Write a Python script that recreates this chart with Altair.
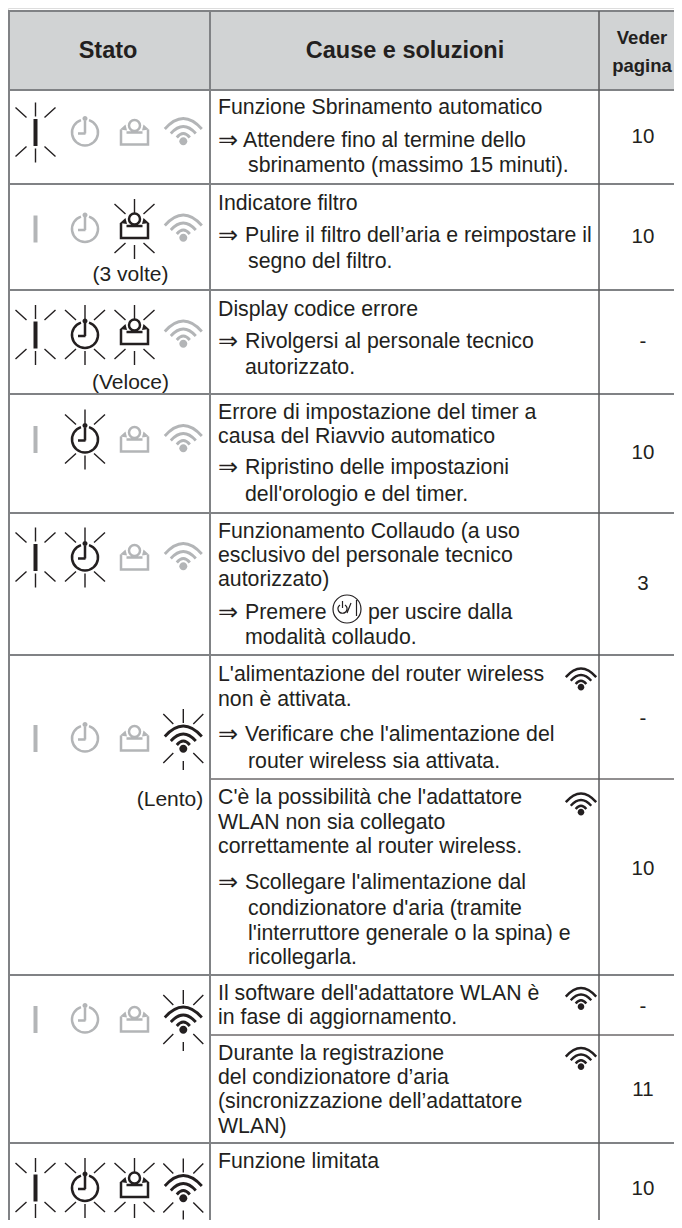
import altair as alt
import pandas as pd

FONT = "Liberation Sans"
INK = "#231f20"
GREY_ICON = "#b3b5b7"
LINE = "#808285"

# ---- table structure (reference pixel coordinates, read through the scales)
row_lines = [11, 90, 184, 290, 394, 513, 655, 975, 1143]
sub_lines = [779, 1035]
col_lines = [9, 210]
page_col = 599

# ---- text
body_text = [
    "Funzione Sbrinamento automatico", "Attendere fino al termine dello", "sbrinamento (massimo 15 minuti).",
    "Indicatore filtro", "Pulire il filtro dell’aria e reimpostare il", "segno del filtro.",
    "Display codice errore", "Rivolgersi al personale tecnico", "autorizzato.",
    "Errore di impostazione del timer a", "causa del Riavvio automatico", "Ripristino delle impostazioni", "dell'orologio e del timer.",
    "Funzionamento Collaudo (a uso", "esclusivo del personale tecnico", "autorizzato)", "Premere", "per uscire dalla", "modalità collaudo.",
    "L'alimentazione del router wireless", "non è attivata.", "Verificare che l'alimentazione del", "router wireless sia attivata.",
    "C'è la possibilità che l'adattatore", "WLAN non sia collegato", "correttamente al router wireless.",
    "Scollegare l'alimentazione dal", "condizionatore d'aria (tramite", "l'interruttore generale o la spina) e", "ricollegarla.",
    "Il software dell'adattatore WLAN è", "in fase di aggiornamento.",
    "Durante la registrazione", "del condizionatore d’aria", "(sincronizzazione dell’adattatore", "WLAN)",
    "Funzione limitata",
]
body_x = [
    218, 243, 248,
    218, 245, 248,
    218, 245, 245,
    218, 218, 245, 245,
    218, 218, 218, 245, 368, 245,
    218, 218, 245, 248,
    218, 218, 218,
    245, 248, 248, 248,
    218, 218,
    218, 218, 218, 218,
    218,
]
body_y = [
    108, 141, 166,
    204, 236, 262,
    310, 342, 368,
    413, 437, 468, 495,
    532, 556, 580, 613, 613, 638,
    675, 700, 735, 762,
    798, 823, 847,
    883, 909, 934, 958,
    994, 1018,
    1054, 1078, 1102, 1127,
    1162,
]
arrow_y = [141, 236, 342, 468, 613, 735, 883]

page_text = ["10", "10", "-", "10", "3", "-", "10", "-", "11", "10"]
page_y = [137, 237, 342, 453, 584, 719, 869, 1007, 1090, 1189]

note_text = ["(3 volte)", "(Veloce)", "(Lento)"]
note_x = [130.5, 130.5, 170]
note_y = [275, 383, 800]

# ---- lamp states: row centre, then which of the four lamps are lit
state_y = [132.5, 229, 335, 439.5, 557.5, 738.5, 1019.5, 1188]
lamp_on = [1, 0, 1, 0, 1, 0, 0, 1]
timer_on = [0, 0, 1, 1, 1, 0, 0, 1]
filter_on = [0, 1, 1, 0, 0, 0, 0, 1]
wifi_on = [0, 0, 0, 0, 0, 1, 1, 1]
small_wifi_y = [680, 805, 999.5, 1059.5]

# ---- icon outlines (unit = 1px at size 4)
LAMP = "M -2 -13.5 L 2 -13.5 L 2 13.5 L -2 13.5 Z"
RAYS = ("M 0 -30 L 0 -16 M 0 16 L 0 30 M -20 -25 L -9 -15 M 20 -25 L 9 -15 "
        "M -20 24 L -9 14 M 20 24 L 9 14")
WIFI_RAYS = ("M 0 -31 L 0 -17 M 0 21 L 0 30 M -20 -26 L -10 -16 M 20 -26 L 10 -16 "
             "M -20 23 L -10 13 M 20 23 L 10 13")
TIMER_S = "M -4 -12.4 A 13 13 0 1 0 4 -12.4 M 0 -12 L 0 1 M 0.5 1 L -7 1"
TIMER_F = "M -2.5 -14 A 2.5 2.5 0 1 0 2.5 -14 A 2.5 2.5 0 1 0 -2.5 -14 Z"
FILTER_S = ("M -13.5 -3 L -13.5 12 L 13.5 12 L 13.5 -3 M -8 0 L 8 0 "
            "M 5.5 -7 A 5.5 5.5 0 1 0 -5.5 -7 A 5.5 5.5 0 1 0 5.5 -7 Z")
FILTER_F = "M -14.5 -3 L -7.5 -2 L -9 -8 Z M 14.5 -3 L 7.5 -2 L 9 -8 Z"
WIFI_S = "M -18.5 -3.5 Q 0 -24.5 18.5 -3.5 M -12.5 1 Q 0 -13 12.5 1 M -6.5 5 Q 0 -3 6.5 5"
WIFI_F = "M -4 8.7 A 4 4 0 1 0 4 8.7 A 4 4 0 1 0 -4 8.7 Z"
POWER_S = ("M 14 0 A 14 14 0 1 0 -14 0 A 14 14 0 1 0 14 0 Z M -7 -4 A 4.5 4.5 0 1 0 -2 -4 "
           "M -4.5 -8 L -4.5 -1 M 0 4 L 4 -6 M 9.5 -9 L 9.5 7")

X = alt.Scale(domain=[8, 674], range=[0, 666], nice=False, zero=False)
Y = alt.Scale(domain=[8, 1220], range=[0, 1212], nice=False, zero=False)
xe = alt.X("x:Q", scale=X, axis=None)
ye = alt.Y("y:Q", scale=Y, axis=None)

layers = []

# header band
layers.append(
    alt.Chart(pd.DataFrame({"x": [8], "x2": [674], "y": [row_lines[0]], "y2": [row_lines[1]]}))
    .mark_rect(color="#d1d3d4")
    .encode(x=xe, x2="x2:Q", y=ye, y2="y2:Q")
)
# horizontal rules
layers.append(
    alt.Chart(pd.DataFrame({"x": [8] * len(row_lines), "x2": [674] * len(row_lines), "y": row_lines}))
    .mark_rule(color=LINE, size=2)
    .encode(x=xe, x2="x2:Q", y=ye)
)
layers.append(
    alt.Chart(pd.DataFrame({"x": [210] * len(sub_lines), "x2": [674] * len(sub_lines), "y": sub_lines}))
    .mark_rule(color=INK, size=1)
    .encode(x=xe, x2="x2:Q", y=ye)
)
# vertical rules
layers.append(
    alt.Chart(pd.DataFrame({"x": col_lines, "y": [11] * len(col_lines), "y2": [1220] * len(col_lines)}))
    .mark_rule(color=LINE, size=2)
    .encode(x=xe, y=ye, y2="y2:Q")
)
layers.append(
    alt.Chart(pd.DataFrame({"x": [page_col], "y": [11], "y2": [1220]}))
    .mark_rule(color="#58595b", size=1.5)
    .encode(x=xe, y=ye, y2="y2:Q")
)


def stroke_icon(xs, ys, path, color, sw=2.5, size=4):
    return (
        alt.Chart(pd.DataFrame({"x": xs, "y": ys}))
        .mark_point(shape=path, size=size, filled=False, stroke=color, strokeWidth=sw, opacity=1)
        .encode(x=xe, y=ye)
    )


def fill_icon(xs, ys, path, color, size=4):
    return (
        alt.Chart(pd.DataFrame({"x": xs, "y": ys}))
        .mark_point(shape=path, size=size, filled=True, fill=color, opacity=1)
        .encode(x=xe, y=ye)
    )


def pick(flags, val):
    return [y for y, f in zip(state_y, flags) if f == val]


for val, col in ((0, GREY_ICON), (1, INK)):
    off = -3 if val else 0
    wo = 1.5 if val else 0
    ly, ty, fy, wy = pick(lamp_on, val), pick(timer_on, val), pick(filter_on, val), pick(wifi_on, val)
    layers.append(fill_icon([35.5] * len(ly), ly, LAMP, col))
    layers.append(stroke_icon([85] * len(ty), ty, TIMER_S, col))
    layers.append(fill_icon([85] * len(ty), ty, TIMER_F, col))
    layers.append(stroke_icon([134.5] * len(fy), [y + off for y in fy], FILTER_S, col))
    layers.append(fill_icon([134.5] * len(fy), [y + off for y in fy], FILTER_F, col))
    layers.append(stroke_icon([183.3] * len(wy), [y + wo for y in wy], WIFI_S, col, 2.8))
    layers.append(fill_icon([183.3] * len(wy), [y + wo for y in wy], WIFI_F, col))

# rays on lit lamps
for xpos, flags in ((35.5, lamp_on), (85, timer_on), (134.5, filter_on)):
    ys = pick(flags, 1)
    layers.append(stroke_icon([xpos] * len(ys), ys, RAYS, INK, 1.4))
ys = [y + 1.5 for y in pick(wifi_on, 1)]
layers.append(stroke_icon([183.3] * len(ys), ys, WIFI_RAYS, INK, 1.4))

# small wifi symbols in the text column
layers.append(stroke_icon([581] * len(small_wifi_y), small_wifi_y, WIFI_S, INK, 2.4, 2.7))
layers.append(fill_icon([581] * len(small_wifi_y), small_wifi_y, WIFI_F, INK, 2.7))
# power button
layers.append(stroke_icon([347], [609], POWER_S, INK, 1.2))


def text_layer(texts, xs, ys, size, align="left", weight="normal", font=FONT):
    return (
        alt.Chart(pd.DataFrame({"t": texts, "x": xs, "y": ys}))
        .mark_text(align=align, baseline="middle", fontSize=size, font=font, fontWeight=weight, color=INK)
        .encode(x=xe, y=ye, text="t:N")
    )


layers.append(text_layer(body_text, body_x, body_y, 21.3))
layers.append(text_layer(["⇒"] * len(arrow_y), [218] * len(arrow_y), arrow_y, 24))
layers.append(text_layer(page_text, [643] * len(page_text), page_y, 20.5, "center"))
layers.append(text_layer(note_text, note_x, note_y, 21, "center"))
layers.append(text_layer(["Stato", "Cause e soluzioni"], [108, 405], [51, 51], 23.5, "center", "bold"))
layers.append(text_layer(["Veder", "pagina"], [642, 642], [38, 66], 18.5, "center", "bold"))

chart = (
    alt.layer(*layers)
    .properties(width=666, height=1212, padding=0, autosize=alt.AutoSizeParams(type="none"))
    .configure_view(stroke=None)
    .configure(background="white")
)
chart.save("out.html", embed_options={"renderer": "svg", "actions": False})
